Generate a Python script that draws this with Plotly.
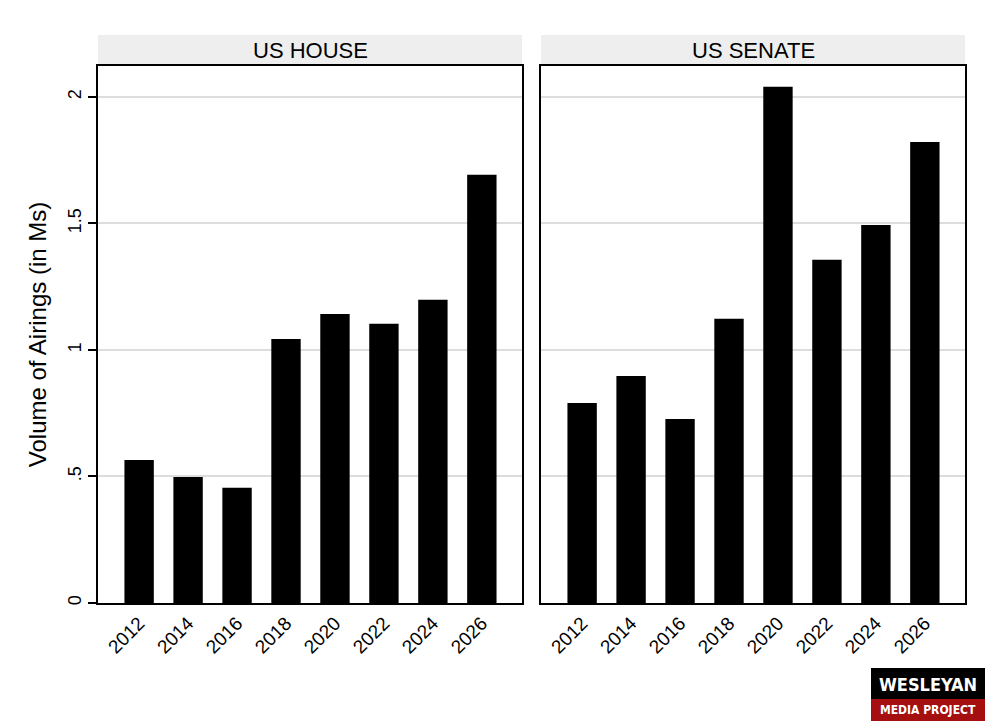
import plotly.graph_objects as go

years = ["2012", "2014", "2016", "2018", "2020", "2022", "2024", "2026"]
house = [0.565, 0.498, 0.455, 1.043, 1.142, 1.103, 1.198, 1.692]
senate = [0.790, 0.897, 0.727, 1.123, 2.040, 1.356, 1.494, 1.822]
panels = ["US HOUSE", "US SENATE"]
yticks = [0, 0.5, 1, 1.5, 2]
yticklabels = ["0", ".5", "1", "1.5", "2"]

FONT = "Liberation Sans, Arial, sans-serif"
W, H = 1000, 727
L, R, T, B = 98, 35, 66, 124
pw = W - L - R
ph = H - T - B

fig = go.Figure()
fig.add_trace(go.Bar(x=years, y=house, marker=dict(color="black", line=dict(width=0)),
                     width=0.6, xaxis="x", yaxis="y", showlegend=False))
fig.add_trace(go.Bar(x=years, y=senate, marker=dict(color="black", line=dict(width=0)),
                     width=0.6, xaxis="x2", yaxis="y2", showlegend=False))

d1 = (522 - L) / pw
d2 = (541 - L) / pw
xcommon = dict(type="category", range=[-0.84, 7.82], tickangle=-45,
               tickfont=dict(family=FONT, size=19, color="black"),
               showline=True, linecolor="black", linewidth=1.5, mirror=True,
               ticks="", showgrid=False)
ycommon = dict(range=[0, 2.122], tickvals=yticks, ticktext=yticklabels,
               showline=True, linecolor="black", linewidth=1.5, mirror=True,
               showgrid=True, gridcolor="#dddddd", gridwidth=1.5, zeroline=False)

fig.update_layout(
    width=W, height=H,
    margin=dict(l=L, r=R, t=T, b=B),
    plot_bgcolor="white", paper_bgcolor="white",
    font=dict(family=FONT, color="black"),
    bargap=0.4,
    xaxis=dict(domain=[0, d1], anchor="y", **xcommon),
    xaxis2=dict(domain=[d2, 1], anchor="y2", **xcommon),
    yaxis=dict(anchor="x", ticks="outside", ticklen=8, tickcolor="black", tickwidth=1.5,
               tickangle=-90, tickfont=dict(family=FONT, size=18, color="black"),
               title=dict(text="Volume of Airings (in Ms)", font=dict(family=FONT, size=24, color="black"), standoff=12),
               **ycommon),
    yaxis2=dict(anchor="x2", matches="y", showticklabels=False, ticks="", **ycommon),
)

# strip headers
for i, (name, x0, x1) in enumerate([(panels[0], 0, d1), (panels[1], d2, 1)]):
    fig.add_shape(type="rect", xref="paper", yref="paper", x0=x0, x1=x1,
                  y0=1 + 1.5 / ph, y1=1 + 31 / ph, fillcolor="#eeeeee", line=dict(width=0), layer="below")
    fig.add_annotation(xref="paper", yref="paper", x=(x0 + x1) / 2, y=1 + 16 / ph,
                       text=name, showarrow=False, font=dict(family=FONT, size=22, color="black"),
                       xanchor="center", yanchor="middle")

# logo
def px(x):
    return (x - L) / pw
def py(y):
    return (H - B - y) / ph

LOGOFONT = "DejaVu Sans Condensed, Liberation Sans Narrow, Arial Narrow, sans-serif"
fig.add_shape(type="rect", xref="paper", yref="paper", x0=px(871), x1=px(985), y0=py(699), y1=py(668),
              fillcolor="black", line=dict(width=0))
fig.add_shape(type="rect", xref="paper", yref="paper", x0=px(871), x1=px(985), y0=py(721), y1=py(699),
              fillcolor="#a50f0f", line=dict(width=0))
fig.add_annotation(xref="paper", yref="paper", x=px(928), y=py(684), text="<b>WESLEYAN</b>", showarrow=False,
                   font=dict(family=LOGOFONT, size=18, color="white"),
                   xanchor="center", yanchor="middle")
fig.add_annotation(xref="paper", yref="paper", x=px(928), y=py(710), text="<b>MEDIA PROJECT</b>", showarrow=False,
                   font=dict(family=LOGOFONT, size=12, color="white"),
                   xanchor="center", yanchor="middle")

fig.write_html("out.html")
